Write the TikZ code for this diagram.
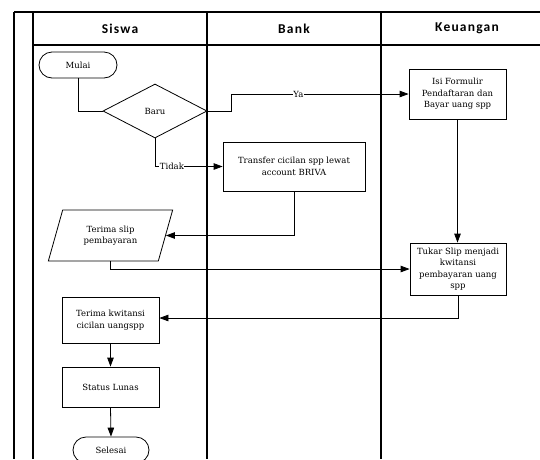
\documentclass[tikz,border=0pt]{standalone}
\usepackage{fontspec}
\setmainfont{DejaVu Serif}
\newfontfamily\hdrfont[LetterSpace=9]{Carlito}
\usetikzlibrary{shapes.geometric,shapes.misc,arrows.meta}
\begin{document}
\begin{tikzpicture}[x=1pt,y=-1pt,
  lane/.style={line width=1.1pt},
  box/.style={draw, line width=0.8pt, fill=white, align=center, inner sep=0pt,
    font=\fontsize{8.5}{11.5}\selectfont},
  term/.style={box, rounded rectangle},
  conn/.style={line width=0.8pt},
  arr/.style={conn, -{Triangle[length=9pt,width=6.5pt]}},
  lbl/.style={fill=white, inner sep=0.5pt, font=\fontsize{8.5}{10}\selectfont},
  hdr/.style={font=\hdrfont\bfseries\fontsize{13.5}{15}\selectfont}
]
\useasboundingbox (0,0) rectangle (540,459);
\fill[white] (0,0) rectangle (540,459);
\clip (0,0) rectangle (540,459);
% swimlane frame
\draw[lane] (14,12) -- (540,12);
\draw[lane] (33,45) -- (540,45);
\draw[lane] (14,12) -- (14,459);
\draw[lane] (33,12) -- (33,459);
\draw[lane] (207,12) -- (207,459);
\draw[lane] (381,12) -- (381,459);
\node[hdr] (hsiswa) at (120,28.5) {Siswa};
\node[hdr] (hbank) at (294,28.5) {Bank};
\node[hdr] (hkeu) at (467,28.5) {Keuangan};
% nodes
\node[term, minimum width=78pt, minimum height=26pt] (mulai) at (78,65) {Mulai};
\node[box, diamond, minimum width=104pt, minimum height=54pt] (baru) at (155,111) {Baru};
\node[box, minimum width=97pt, minimum height=50pt] (isi) at (457.5,94) {Isi Formulir\\Pendaftaran dan\\Bayar uang spp};
\node[box, minimum width=142pt, minimum height=49pt] (trans) at (294,166.5) {Transfer cicilan spp lewat\\account BRIVA};
\node[box, trapezium, trapezium left angle=68, trapezium right angle=112,
  trapezium stretches=true, minimum width=125pt, minimum height=51pt] (slip) at (110.5,235.5) {Terima slip\\pembayaran};
\node[box, minimum width=96pt, minimum height=52pt] (tukar) at (458,269) {Tukar Slip menjadi\\kwitansi\\pembayaran uang\\spp};
\node[box, minimum width=97pt, minimum height=46pt] (kwit) at (110.5,320) {Terima kwitansi\\cicilan uangspp};
\node[box, minimum width=97pt, minimum height=40pt] (lunas) at (110.5,387) {Status Lunas};
\node[term, minimum width=76pt, minimum height=26pt] (selesai) at (111,450) {Selesai};
\coordinate (yak) at (231,94);
% connectors
\draw[conn] (mulai.south) |- (baru.west);
\draw[arr] (baru.east) -| (yak) -- node[lbl, pos=0.38] (ya) {Ya} (isi.west);
\draw[arr] (baru.south) |- node[lbl, pos=0.625] (tidak) {Tidak} (trans.west);
\draw[arr] (isi.south) -- (isi.south |- tukar.north);
\draw[arr] (trans.south) |- (slip.east);
\draw[arr] (slip.south) |- (tukar.west);
\draw[arr] (tukar.south) |- ([yshift=2pt]kwit.east);
\draw[arr] (kwit.south) -- (lunas.north);
\draw[arr] (lunas.south) -- (selesai.north);
\end{tikzpicture}
\end{document}
